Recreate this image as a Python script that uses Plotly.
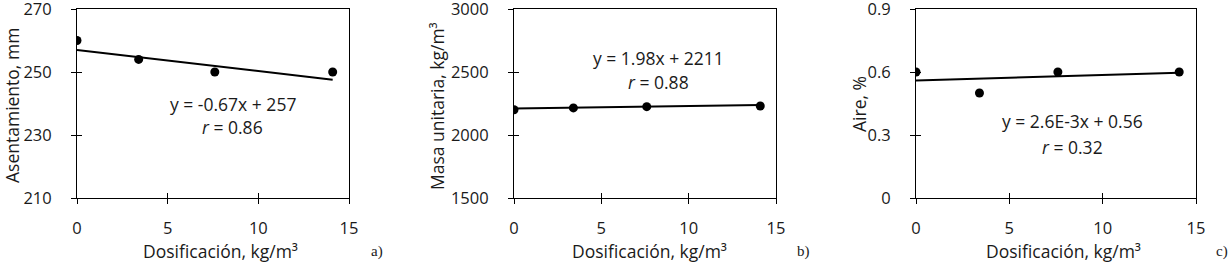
import plotly.graph_objects as go

# ---- data ----
dosis = [0, 3.4, 7.6, 14.1]
asentamiento = [260, 254, 250, 250]
masa = [2200, 2215, 2225, 2230]
aire = [0.6, 0.5, 0.6, 0.6]

slopes = [-0.67, 1.98, 0.0026]
intercepts = [257, 2211, 0.56]
eq_labels = ["y = -0.67x + 257", "y = 1.98x + 2211", "y = 2.6E-3x + 0.56"]
r_labels = ["<i>r</i> = 0.86", "<i>r</i> = 0.88", "<i>r</i> = 0.32"]
y_titles = ["Asentamiento, mm", "Masa unitaria, kg/m³", "Aire, %"]
x_title = "Dosificación, kg/m³"
panel_tags = ["a)", "b)", "c)"]
y_ranges = [[210, 270], [1500, 3000], [0, 0.9]]
y_dticks = [20, 500, 0.3]
x_ticks = [0, 5, 10, 15]

W, H = 1231, 265
FONT = "Open Sans"
FS = 17.5
TFS = 16.5
TXT = "#1a1a1a"

# pixel layout
x_dom_px = [(77, 349), (514, 776), (916, 1196)]
y_top, y_bot = 9, 198
ytitle_x = [12, 437, 859]
ytitle_y = [106, 106, 104]
xtitle_x = [220, 649, 1063]
tag_x = [377, 803, 1222]
eq_pos = [(8.6, 240.0, 232.4), (8.3, 2611, 2421), (8.36, 0.366, 0.241)]

series = [asentamiento, masa, aire]

fig = go.Figure()
ann = []
layout = {}
for i in range(3):
    n = "" if i == 0 else str(i + 1)
    xa, ya = "x" + n, "y" + n
    fig.add_trace(go.Scatter(x=dosis, y=series[i], mode="markers",
                             marker=dict(color="black", size=9),
                             xaxis=xa, yaxis=ya, showlegend=False))
    xl = [dosis[0], dosis[-1]]
    yl = [intercepts[i] + slopes[i] * v for v in xl]
    fig.add_trace(go.Scatter(x=xl, y=yl, mode="lines",
                             line=dict(color="black", width=2),
                             xaxis=xa, yaxis=ya, showlegend=False))
    xd = [x_dom_px[i][0] / W, x_dom_px[i][1] / W]
    yd = [1 - y_bot / H, 1 - y_top / H]
    common = dict(showgrid=False, zeroline=False, linecolor="black", linewidth=1,
                  ticks="outside", ticklen=5, tickcolor="black", tickwidth=1,
                  automargin=False, ticklabeloverflow="allow",
                  tickfont=dict(family=FONT, size=TFS, color=TXT))
    layout["xaxis" + n] = dict(domain=xd, range=[0, 15], tickvals=x_ticks, anchor=ya,
                               showline=True, mirror=True, ticklabelstandoff=10, **common)
    layout["yaxis" + n] = dict(domain=yd, range=y_ranges[i], dtick=y_dticks[i],
                               tick0=y_ranges[i][0], anchor=xa,
                               showline=True, mirror=True, ticklabelstandoff=16, **common)
    # overlay axes for inside half of crossing ticks
    k = str(i + 4)
    layout["xaxis" + k] = dict(domain=xd, range=[0, 15], tickvals=x_ticks, overlaying=xa,
                               anchor=ya, side="bottom", showline=False, showgrid=False,
                               zeroline=False, ticks="inside", ticklen=5, tickcolor="black",
                               showticklabels=False, automargin=False)
    layout["yaxis" + k] = dict(domain=yd, range=y_ranges[i], dtick=y_dticks[i],
                               tick0=y_ranges[i][0], overlaying=ya, anchor=xa, side="left",
                               showline=False, showgrid=False, zeroline=False, ticks="inside",
                               ticklen=5, tickcolor="black", showticklabels=False,
                               automargin=False)
    fig.add_trace(go.Scatter(x=[None], y=[None], xaxis="x" + k, yaxis="y" + k,
                             showlegend=False, hoverinfo="skip"))
    ex, ey1, ey2 = eq_pos[i]
    base = dict(showarrow=False, xanchor="center", yanchor="middle")
    ann.append(dict(x=ex, y=ey1, xref=xa, yref=ya, text=eq_labels[i],
                    font=dict(family=FONT, size=FS, color=TXT), **base))
    ann.append(dict(x=ex, y=ey2, xref=xa, yref=ya, text=r_labels[i],
                    font=dict(family=FONT, size=FS, color=TXT), **base))
    ann.append(dict(x=ytitle_x[i] / W, y=1 - ytitle_y[i] / H, xref="paper", yref="paper",
                    text=y_titles[i], textangle=-90,
                    font=dict(family=FONT, size=FS, color=TXT), **base))
    ann.append(dict(x=xtitle_x[i] / W, y=1 - 251 / H, xref="paper", yref="paper",
                    text=x_title, font=dict(family=FONT, size=FS, color=TXT), **base))
    ann.append(dict(x=tag_x[i] / W, y=1 - 251 / H, xref="paper", yref="paper",
                    text=panel_tags[i],
                    font=dict(family="Liberation Serif", size=15, color=TXT), **base))

fig.update_layout(width=W, height=H, margin=dict(l=0, r=0, t=0, b=0),
                  plot_bgcolor="white", paper_bgcolor="white",
                  annotations=ann, **layout)
fig.write_html("out.html", config={"displayModeBar": False},
               post_script="document.body.style.margin='0';")
